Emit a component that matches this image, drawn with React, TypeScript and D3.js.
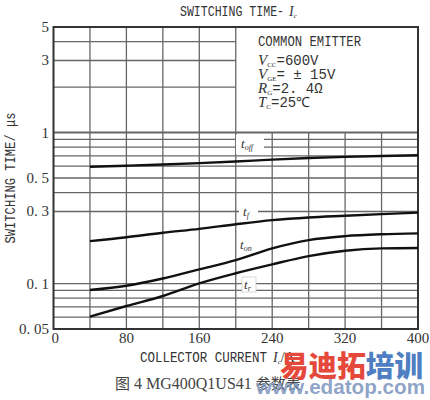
import React from "react";
import * as d3 from "d3";

const currents = [40, 80, 120, 160, 200, 240, 280, 320, 360, 400];
const tOff = [0.593, 0.603, 0.614, 0.627, 0.643, 0.662, 0.678, 0.69, 0.7, 0.707];
const tF = [0.191, 0.2025, 0.217, 0.23, 0.247, 0.263, 0.274, 0.281, 0.288, 0.295];
const tOn = [0.0906, 0.0967, 0.108, 0.124, 0.143, 0.171, 0.194, 0.206, 0.212, 0.215];
const tR = [0.0603, 0.071, 0.0827, 0.1003, 0.117, 0.134, 0.152, 0.165, 0.171, 0.172];

const xTicks = [0, 80, 160, 240, 320, 400];
const xGrid = [40, 80, 120, 160, 200, 240, 280, 320, 360];
const yTicks = [0.05, 0.1, 0.3, 0.5, 1, 3, 5];
const yTickLabels = ["0. 05", "0. 1", "0. 3", "0. 5", "1", "3", "5"];
const yGridLow = [0.06, 0.07, 0.08, 0.09, 0.1, 0.3, 0.4, 0.5, 0.6, 0.7, 0.8, 0.9, 1];
const yGridHigh = [2, 3, 4];

const MONO = "'Liberation Mono', 'DejaVu Sans Mono', monospace";
const SERIF = "'Liberation Serif', 'DejaVu Serif', serif";
const CJK = "'Noto Sans CJK SC', sans-serif";

export default function App() {
  const x = d3.scaleLinear().domain([0, 400]).range([53.5, 418]);
  const y = d3.scaleLog().domain([0.05, 5]).range([329, 27]);
  const line = d3
    .line<[number, number]>()
    .x((d) => x(d[0]))
    .y((d) => y(d[1]))
    .curve(d3.curveMonotoneX);
  const series = [tOff, tF, tOn, tR];
  const grid = "#666";

  return (
    <svg
      width={430}
      height={400}
      style={{ position: "absolute", left: 0, top: 0, background: "#fff" }}
    >
      <rect x={0} y={0} width={430} height={400} fill="#fff" />
      {xGrid.map((v) => (
        <line
          key={"vx" + v}
          x1={x(v)}
          x2={x(v)}
          y1={y(0.05)}
          y2={v <= 200 ? y(5) : y(1)}
          stroke={grid}
          strokeWidth={1.3}
        />
      ))}
      {yGridLow.map((v) => (
        <line
          key={"hy" + v}
          x1={x(0)}
          x2={x(400)}
          y1={y(v)}
          y2={y(v)}
          stroke={grid}
          strokeWidth={v === 1 ? 2 : 1.3}
        />
      ))}
      {yGridHigh.map((v) => (
        <line
          key={"hh" + v}
          x1={x(0)}
          x2={x(200)}
          y1={y(v)}
          y2={y(v)}
          stroke={grid}
          strokeWidth={1.3}
        />
      ))}
      <rect
        x={x(0)}
        y={y(5)}
        width={x(400) - x(0)}
        height={y(0.05) - y(5)}
        fill="none"
        stroke="#333"
        strokeWidth={2}
      />
      <rect x={236} y={135} width={28} height={19} fill="#fff" />
      <rect x={239} y={206} width={19} height={13} fill="#fff" />
      <rect x={242} y={277} width={14} height={15} fill="#fff" stroke="#ccc" strokeWidth={0.8} />
      {series.map((s, i) => (
        <path
          key={"s" + i}
          d={line(currents.map((c, j) => [c, s[j]] as [number, number])) || ""}
          fill="none"
          stroke="#111"
          strokeWidth={2.4}
        />
      ))}
      <g fontFamily={SERIF} fontStyle="italic" fill="#333" fontSize={13}>
        <text x={241} y={148}>
          t<tspan fontSize={8} dy={2}>off</tspan>
        </text>
        <text x={243} y={216}>
          t<tspan fontSize={8} dy={2}>f</tspan>
        </text>
        <text x={240} y={249}>
          t<tspan fontSize={8} dy={2}>on</tspan>
        </text>
        <text x={244} y={289}>
          t<tspan fontSize={8} dy={2}>r</tspan>
        </text>
      </g>
      {yTicks.map((v, i) => (
        <text
          key={"yt" + v}
          x={49}
          y={y(v) + 5}
          textAnchor="end"
          fontFamily={SERIF}
          fontSize={15}
          fill="#333"
        >
          {yTickLabels[i]}
        </text>
      ))}
      {xTicks.map((v) => (
        <text
          key={"xt" + v}
          x={x(v)}
          y={343}
          textAnchor={v === 0 ? "start" : "middle"}
          dx={v === 0 ? -2 : 0}
          fontFamily={SERIF}
          fontSize={15}
          fill="#333"
        >
          {v}
        </text>
      ))}
      <text x={180} y={16} fontFamily={MONO} fontSize={15} fill="#333" textLength={104} lengthAdjust="spacingAndGlyphs">
        SWITCHING TIME-
      </text>
      <text x={289} y={16} fontFamily={SERIF} fontStyle="italic" fontSize={14} fill="#333">
        I<tspan fontSize={7} dy={2}>c</tspan>
      </text>
      <g fontFamily={MONO} fontSize={15} fill="#333">
        <text x={258} y={46} textLength={103} lengthAdjust="spacingAndGlyphs">
          COMMON EMITTER
        </text>
        <text x={258} y={65}>
          <tspan fontFamily={SERIF} fontStyle="italic" fontSize={15}>V</tspan>
          <tspan fontFamily={SERIF} fontSize={7} dy={2}>CC</tspan>
          <tspan dy={-2} fontSize={14}>=600V</tspan>
        </text>
        <text x={258} y={79}>
          <tspan fontFamily={SERIF} fontStyle="italic" fontSize={15}>V</tspan>
          <tspan fontFamily={SERIF} fontSize={7} dy={2}>GE</tspan>
          <tspan dy={-2} fontSize={14}>= ± 15V</tspan>
        </text>
        <text x={258} y={93}>
          <tspan fontFamily={SERIF} fontStyle="italic" fontSize={15}>R</tspan>
          <tspan fontFamily={SERIF} fontSize={7} dy={2}>G</tspan>
          <tspan dy={-2} fontSize={14}>=2. 4Ω</tspan>
        </text>
        <text x={258} y={107}>
          <tspan fontFamily={SERIF} fontStyle="italic" fontSize={15}>T</tspan>
          <tspan fontFamily={SERIF} fontSize={7} dy={2}>C</tspan>
          <tspan dy={-2} fontSize={14}>=25℃</tspan>
        </text>
      </g>
      <text
        transform="translate(15,178) rotate(-90)"
        textAnchor="middle"
        fontFamily={MONO}
        fontSize={14}
        fill="#333"
        textLength={131}
        lengthAdjust="spacingAndGlyphs"
      >
        SWITCHING TIME/ μs
      </text>
      <text x={140} y={362} fontFamily={MONO} fontSize={15} fill="#333" textLength={127} lengthAdjust="spacingAndGlyphs">
        COLLECTOR CURRENT
      </text>
      <text x={273} y={362} fontFamily={SERIF} fontSize={14} fill="#333">
        <tspan fontStyle="italic">I</tspan>
        <tspan fontSize={7} dy={2}>c</tspan>
        <tspan dy={-2}>/A</tspan>
      </text>
      <text x={115} y={389} fontFamily={SERIF} fontSize={16} fill="#444">
        <tspan fontFamily={CJK} fontSize={15}>图</tspan> 4 MG400Q1US41 <tspan fontFamily={CJK} fontSize={15}>参数表</tspan>
      </text>
      <text x={280} y={377} fontFamily={CJK} fontWeight={900} fontSize={29} textLength={143} lengthAdjust="spacingAndGlyphs">
        <tspan fill="#e5493c">易迪拓</tspan>
        <tspan fill="#4f7fc2">培训</tspan>
      </text>
      <text x={256} y={394} fontFamily="'Liberation Sans', Arial, sans-serif" fontWeight="bold" fontSize={20} fill="#7f97bf" fillOpacity={0.9} textLength={169} lengthAdjust="spacingAndGlyphs">
        www.edatop.com
      </text>
    </svg>
  );
}
